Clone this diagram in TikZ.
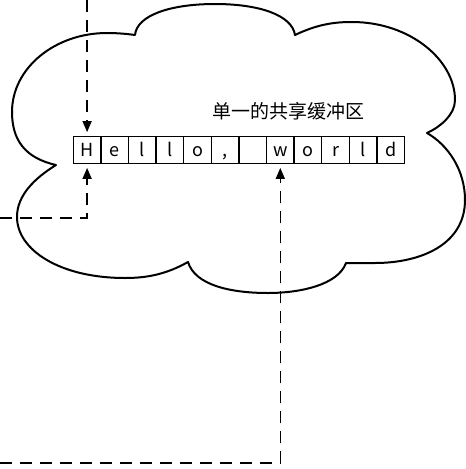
\documentclass[tikz,border=0pt]{standalone}
\usepackage{fontspec}
\setmainfont{Noto Sans CJK SC}
\usepackage{tikz}
\usetikzlibrary{positioning,arrows.meta}

\begin{document}
\begin{tikzpicture}[x=1pt,y=1pt,
  cell/.style={draw=black,line width=1.3pt,minimum width=27.6pt,minimum height=26.5pt,inner sep=0pt,text height=16pt,text depth=2.6pt,font=\fontsize{18}{18}\selectfont},
  link/.style={draw=black,line width=1.6pt,dash pattern=on 12pt off 8pt,-{Triangle[length=11pt,width=9pt]},shorten >=4pt},
  cloudline/.style={draw=black,line width=2pt,line join=round}]
\useasboundingbox (0,0) rectangle (466,-469);
\draw[cloudline] (56,-165) .. controls (25,-158) and (12,-140) .. (12,-112)
  .. controls (12,-68) and (55,-33) .. (107,-33)
  .. controls (118,-33) and (128,-34) .. (135,-35)
  .. controls (137,-15) and (171,-4) .. (215,-4)
  .. controls (259,-4) and (292,-15) .. (295,-35)
  .. controls (318,-24) and (335,-22) .. (352,-22)
  .. controls (410,-22) and (455,-60) .. (455,-100)
  .. controls (455,-115) and (440,-127) .. (427,-133)
  .. controls (448,-145) and (465,-170) .. (465,-200)
  .. controls (465,-245) and (420,-263) .. (375,-263)
  .. controls (362,-263) and (352,-263) .. (346,-263)
  .. controls (338,-285) and (300,-293) .. (268,-293)
  .. controls (230,-293) and (195,-285) .. (188,-262)
  .. controls (165,-275) and (145,-278) .. (125,-278)
  .. controls (60,-278) and (17,-250) .. (17,-217)
  .. controls (17,-195) and (35,-178) .. (56,-165) -- cycle;
\foreach \ch [count=\i] in {H,e,l,l,o,{,},{},w,o,r,l,d}
  \node[cell] (cell\i) at ({59.5+\i*27.6},-150) {\ch};
\node[font=\fontsize{19}{19}\selectfont] (title) at (288,-111) {单一的共享缓冲区};
\coordinate (topin) at (87.1,0);
\coordinate (leftin) at (0,-218);
\coordinate (bottomin) at (0,-463);
\draw[link] (topin) -- (cell1.north);
\draw[link] (leftin) -| (cell1.south);
\draw[link] (bottomin) -| (cell8.south);
\end{tikzpicture}
\end{document}
